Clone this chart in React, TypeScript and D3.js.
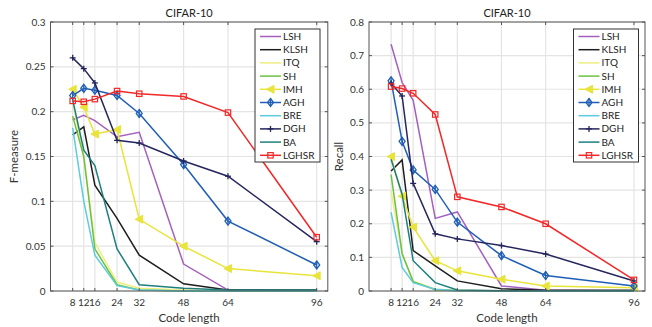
import React from 'react';
import * as d3 from 'd3';

const codeLengths = [8, 12, 16, 24, 32, 48, 64, 96];
const methods = ['LSH', 'KLSH', 'ITQ', 'SH', 'IMH', 'AGH', 'BRE', 'DGH', 'BA', 'LGHSR'];
const colors = ['#a55fbf', '#1e1e1e', '#eeee80', '#6cc142', '#e8e43a', '#1f5fb5', '#5ccbe0', '#26265e', '#1f7f7f', '#f22828'];
const markers = ['none', 'none', 'none', 'none', 'triangle', 'diamond', 'none', 'plus', 'none', 'square'];

// F-measure per method (same order as methods)
const fLSH = [0.191, 0.196, 0.19, 0.172, 0.177, 0.03, 0.001, 0.0];
const fKLSH = [0.174, 0.183, 0.118, 0.081, 0.04, 0.008, 0.001, 0.001];
const fITQ = [0.21, 0.15, 0.054, 0.01, 0.003, 0.001, 0.0, 0.0];
const fSH = [0.195, 0.15, 0.047, 0.007, 0.001, 0.0, 0.0, 0.0];
const fIMH = [0.225, 0.205, 0.175, 0.18, 0.08, 0.05, 0.025, 0.017];
const fAGH = [0.218, 0.226, 0.224, 0.218, 0.198, 0.141, 0.078, 0.029];
const fBRE = [0.182, 0.1, 0.04, 0.006, 0.001, 0.0, 0.0, 0.0];
const fDGH = [0.26, 0.248, 0.232, 0.168, 0.165, 0.145, 0.128, 0.055];
const fBA = [0.213, 0.157, 0.14, 0.047, 0.007, 0.003, 0.001, 0.001];
const fLGHSR = [0.212, 0.211, 0.214, 0.223, 0.22, 0.217, 0.199, 0.06];

// Recall per method
const rLSH = [0.734, 0.62, 0.567, 0.216, 0.235, 0.015, 0.002, 0.0];
const rKLSH = [0.357, 0.39, 0.12, 0.075, 0.03, 0.007, 0.002, 0.002];
const rITQ = [0.297, 0.11, 0.03, 0.005, 0.002, 0.001, 0.0, 0.0];
const rSH = [0.346, 0.111, 0.028, 0.004, 0.001, 0.0, 0.0, 0.0];
const rIMH = [0.4, 0.282, 0.19, 0.09, 0.06, 0.035, 0.015, 0.01];
const rAGH = [0.625, 0.445, 0.36, 0.302, 0.205, 0.105, 0.046, 0.015];
const rBRE = [0.234, 0.07, 0.025, 0.005, 0.001, 0.0, 0.0, 0.0];
const rDGH = [0.618, 0.58, 0.32, 0.17, 0.155, 0.135, 0.11, 0.03];
const rBA = [0.392, 0.288, 0.09, 0.025, 0.003, 0.001, 0.001, 0.001];
const rLGHSR = [0.608, 0.602, 0.588, 0.525, 0.28, 0.25, 0.2, 0.033];

const fSeries = [fLSH, fKLSH, fITQ, fSH, fIMH, fAGH, fBRE, fDGH, fBA, fLGHSR];
const rSeries = [rLSH, rKLSH, rITQ, rSH, rIMH, rAGH, rBRE, rDGH, rBA, rLGHSR];

const fTicks = [0, 0.05, 0.1, 0.15, 0.2, 0.25, 0.3];
const rTicks = [0, 0.1, 0.2, 0.3, 0.4, 0.5, 0.6, 0.7, 0.8];

const font = 'Lato, "Open Sans", sans-serif';
const axisColor = '#555';
const gridColor = '#e4e4e4';

const Marker: React.FC<{ kind: string; x: number; y: number; color: string }> = ({ kind, x, y, color }) => {
  if (kind === 'triangle') {
    return <path d={`M${x - 4},${y} L${x + 3.5},${y - 4} L${x + 3.5},${y + 4} Z`} fill={color} stroke={color} strokeWidth={1} />;
  }
  if (kind === 'diamond') {
    return (
      <g stroke={color} strokeWidth={1.3} fill="none">
        <path d={`M${x},${y - 4} L${x + 3},${y} L${x},${y + 4} L${x - 3},${y} Z`} />
        <line x1={x} x2={x} y1={y - 4} y2={y + 4} />
      </g>
    );
  }
  if (kind === 'plus') {
    return (
      <g stroke={color} strokeWidth={1.3}>
        <line x1={x - 3} x2={x + 3} y1={y} y2={y} />
        <line x1={x} x2={x} y1={y - 3} y2={y + 3} />
      </g>
    );
  }
  if (kind === 'square') {
    return <rect x={x - 2.7} y={y - 2.7} width={5.4} height={5.4} fill="none" stroke={color} strokeWidth={1.2} />;
  }
  return null;
};

interface PanelProps {
  left: number;
  right: number;
  series: number[][];
  yMax: number;
  yTicks: number[];
  yLabel: string;
  yLabelX: number;
  legendX: number;
}

const Panel: React.FC<PanelProps> = ({ left, right, series, yMax, yTicks, yLabel, yLabelX, legendX }) => {
  const top = 22;
  const bottom = 291;
  const x = d3.scaleLinear().domain([0, 100]).range([left, right]);
  const y = d3.scaleLinear().domain([0, yMax]).range([bottom, top]);
  const line = d3.line<number>().x((_, i) => x(codeLengths[i])).y(d => y(d));
  const legendTop = 29;
  const rowH = 13.2;

  return (
    <g fontFamily={font}>
      <rect x={left} y={top} width={right - left} height={bottom - top} fill="#fff" />
      {codeLengths.map(c => (
        <line key={'gx' + c} x1={x(c)} x2={x(c)} y1={top} y2={bottom} stroke={gridColor} strokeWidth={1.2} />
      ))}
      {yTicks.map(t => (
        <line key={'gy' + t} x1={left} x2={right} y1={y(t)} y2={y(t)} stroke={gridColor} strokeWidth={1.2} />
      ))}

      {series.map((s, i) => (
        <g key={methods[i]}>
          <path d={line(s) || ''} fill="none" stroke={colors[i]} strokeWidth={1.5} />
          {s.map((v, j) => (
            <Marker key={j} kind={markers[i]} x={x(codeLengths[j])} y={y(v)} color={colors[i]} />
          ))}
        </g>
      ))}

      {/* ticks */}
      {codeLengths.map(c => (
        <g key={'tx' + c} stroke={axisColor}>
          <line x1={x(c)} x2={x(c)} y1={bottom} y2={bottom - 3} />
          <line x1={x(c)} x2={x(c)} y1={top} y2={top + 3} />
        </g>
      ))}
      {yTicks.map(t => (
        <g key={'ty' + t} stroke={axisColor}>
          <line x1={left} x2={left + 3} y1={y(t)} y2={y(t)} />
          <line x1={right} x2={right - 3} y1={y(t)} y2={y(t)} />
        </g>
      ))}
      <rect x={left} y={top} width={right - left} height={bottom - top} fill="none" stroke={axisColor} strokeWidth={1} />

      {codeLengths.map(c => (
        <text key={'lx' + c} x={x(c)} y={bottom + 15} textAnchor="middle" fontSize={10} fill="#333">
          {c}
        </text>
      ))}
      {yTicks.map(t => (
        <text key={'ly' + t} x={left - 5} y={y(t) + 3.5} textAnchor="end" fontSize={10} fill="#333">
          {t}
        </text>
      ))}
      <text x={(left + right) / 2} y={322} textAnchor="middle" fontSize={11.5} fill="#333">
        Code length
      </text>
      <text transform={`translate(${yLabelX},${(top + bottom) / 2}) rotate(-90)`} textAnchor="middle" fontSize={11.5} fill="#333">
        {yLabel}
      </text>
      <text x={(left + right) / 2} y={17} textAnchor="middle" fontSize={11} fill="#222">
        CIFAR-10
      </text>

      {/* legend */}
      <rect x={legendX} y={legendTop} width={65} height={133} fill="#fff" stroke="#333" strokeWidth={1} />
      {methods.map((m, i) => {
        const ly = legendTop + 7.5 + i * rowH;
        return (
          <g key={'lg' + m}>
            <line x1={legendX + 5} x2={legendX + 26} y1={ly} y2={ly} stroke={colors[i]} strokeWidth={1.5} />
            <Marker kind={markers[i]} x={legendX + 15.5} y={ly} color={colors[i]} />
            <text x={legendX + 28} y={ly + 3.5} fontSize={10} fill="#222">
              {m}
            </text>
          </g>
        );
      })}
    </g>
  );
};

export default function App() {
  return (
    <svg width={652} height={327} style={{ display: 'block', position: 'absolute', left: 0, top: 0 }}>
      <rect width={652} height={327} fill="#fff" />
      <Panel left={50.5} right={327.8} series={fSeries} yMax={0.3} yTicks={fTicks} yLabel="F-measure" yLabelX={18} legendX={255} />
      <Panel left={369} right={645} series={rSeries} yMax={0.8} yTicks={rTicks} yLabel="Recall" yLabelX={343} legendX={573.5} />
    </svg>
  );
}
